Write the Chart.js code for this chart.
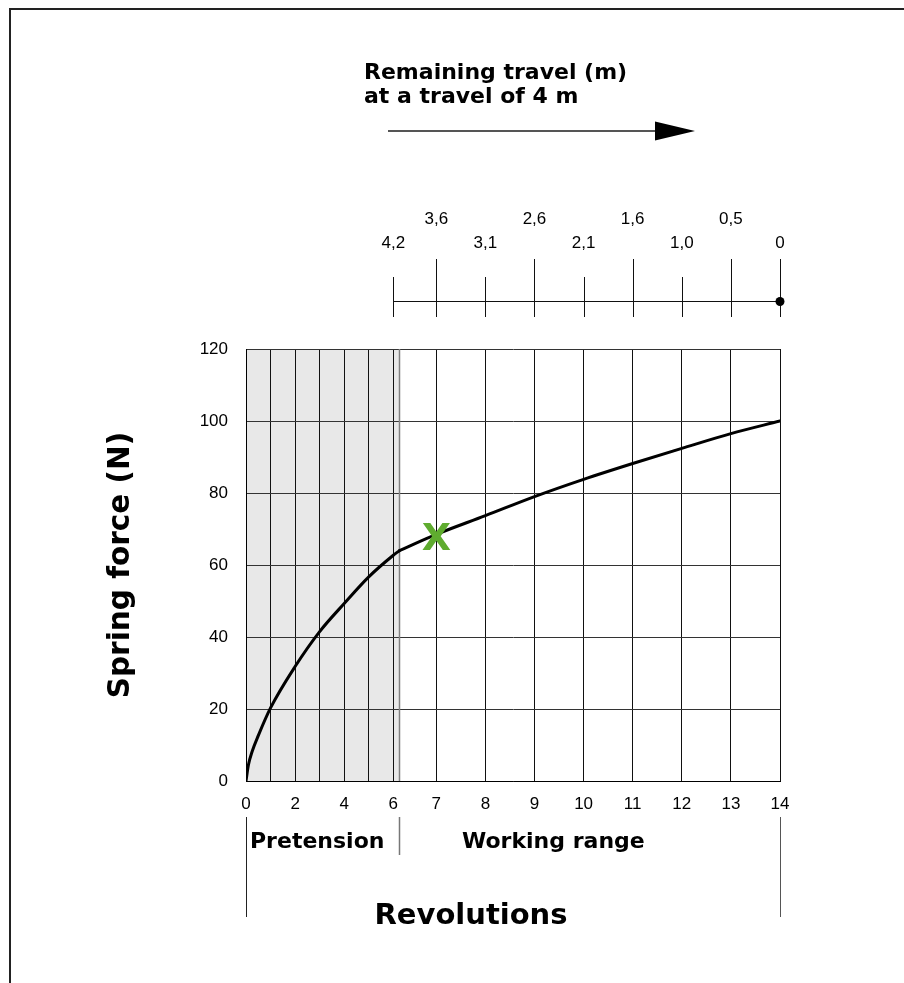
<!DOCTYPE html>
<html>
<head>
<meta charset="utf-8">
<title>Spring force</title>
<script src="https://cdn.jsdelivr.net/npm/chart.js@4.4.1/dist/chart.umd.min.js"></script>
<style>
    html, body { margin: 0; padding: 0; background: #fff; }
    #wrap { position: relative; width: 904px; height: 983px; }
</style>
</head>
<body>
<div id="wrap"><canvas id="springChart"></canvas></div>
<script>
(function () {
    // spring force over revolutions
    const revolutions = [0, 0.1, 0.25, 0.5, 1, 2, 3, 4, 5, 6, 6.25, 7, 8, 9, 10, 11, 12, 13, 14];
    const springForce = [0, 4.5, 8.2, 12.6, 20.3, 31.8, 41.5, 49.3, 56.7, 62.7, 64, 68.5, 73.7, 79, 83.8, 88.2, 92.4, 96.5, 100];

    const revTicks = [0, 1, 2, 3, 4, 5, 6, 7, 8, 9, 10, 11, 12, 13, 14];
    const revLabelled = [0, 2, 4, 6, 7, 8, 9, 10, 11, 12, 13, 14];
    const forceTicks = [0, 20, 40, 60, 80, 100, 120];

    // remaining travel (m) at a travel of 4 m, against revolutions
    const travelRevs = [6, 7, 8, 9, 10, 11, 12, 13, 14];
    const travelLabels = ['4,2', '3,6', '3,1', '2,6', '2,1', '1,6', '1,0', '0,5', '0'];

    const pretensionEnd = 6.25;
    const markerRev = 7;
    const markerForce = 68;

    const tickFont = { family: '"Liberation Sans", Arial, sans-serif', size: 17 };
    const boldFamily = '"DejaVu Sans", sans-serif';

    // pretension part of the axis is drawn at half the scale of the working range
    class SplitScale extends Chart.LinearScale {
        toUnits(v) {
            return v <= pretensionEnd ? v * 0.5 : pretensionEnd * 0.5 + (v - pretensionEnd);
        }

        fromUnits(u) {
            return u <= pretensionEnd * 0.5 ? u * 2 : u - pretensionEnd * 0.5 + pretensionEnd;
        }

        getPixelForValue(value) {
            if (value === null || isNaN(value)) {
                return NaN;
            }
            const lo = this.toUnits(this.min);
            const hi = this.toUnits(this.max);
            return this.getPixelForDecimal((this.toUnits(value) - lo) / (hi - lo));
        }

        getValueForPixel(pixel) {
            const lo = this.toUnits(this.min);
            const hi = this.toUnits(this.max);
            return this.fromUnits(lo + this.getDecimalForPixel(pixel) * (hi - lo));
        }
    }
    SplitScale.id = 'split';
    SplitScale.defaults = Chart.LinearScale.defaults;
    Chart.register(SplitScale);

    function crisp(v) {
        return Math.round(v) + 0.5;
    }

    function vline(ctx, x, y1, y2, color, width) {
        ctx.strokeStyle = color;
        ctx.lineWidth = width || 1;
        ctx.beginPath();
        ctx.moveTo(crisp(x), y1);
        ctx.lineTo(crisp(x), y2);
        ctx.stroke();
    }

    function curvePart(from, to) {
        const points = [];
        revolutions.forEach((rev, i) => {
            if (rev >= from && rev <= to) {
                points.push({ x: rev, y: springForce[i] });
            }
        });
        return {
            data: points,
            borderColor: '#000',
            borderWidth: 3,
            borderCapStyle: 'round',
            pointRadius: 0,
            cubicInterpolationMode: 'monotone',
            fill: false,
        };
    }

    const sheetPlugin = {
        id: 'springSheet',
        beforeDraw(chart) {
            const { ctx, chartArea: a, scales: { x } } = chart;
            ctx.save();
            ctx.fillStyle = '#e8e8e8';
            ctx.fillRect(a.left, a.top, x.getPixelForValue(pretensionEnd) - a.left, a.bottom - a.top);
            ctx.restore();
        },
        beforeDatasetsDraw(chart) {
            const { ctx, chartArea: a, scales: { x } } = chart;
            ctx.save();
            vline(ctx, x.getPixelForValue(pretensionEnd), a.top, a.bottom, '#808080', 1.5);
            ctx.restore();
        },
        afterDatasetsDraw(chart) {
            const { ctx, scales: { x, y } } = chart;
            ctx.save();
            ctx.fillStyle = '#5fac2f';
            ctx.font = 'bold 38px ' + boldFamily;
            ctx.textAlign = 'center';
            ctx.textBaseline = 'alphabetic';
            ctx.fillText('X', x.getPixelForValue(markerRev), y.getPixelForValue(markerForce) + 14);
            ctx.restore();
        },
        afterDraw(chart) {
            const { ctx, scales: { x } } = chart;
            ctx.save();

            // remaining travel axis
            const axisY = 301.5;
            ctx.strokeStyle = '#111';
            ctx.lineWidth = 1;
            ctx.beginPath();
            ctx.moveTo(x.getPixelForValue(travelRevs[0]), axisY);
            ctx.lineTo(x.getPixelForValue(travelRevs[travelRevs.length - 1]), axisY);
            ctx.stroke();

            ctx.fillStyle = '#000';
            ctx.font = tickFont.size + 'px ' + tickFont.family;
            ctx.textAlign = 'center';
            ctx.textBaseline = 'middle';
            travelRevs.forEach((rev, i) => {
                const px = x.getPixelForValue(rev);
                const upper = i % 2 === 1;
                const tall = upper || i === travelRevs.length - 1;
                vline(ctx, px, tall ? 259 : 277, 317, '#111', 1);
                ctx.fillText(travelLabels[i], px, upper ? 219 : 243);
            });
            ctx.beginPath();
            ctx.arc(x.getPixelForValue(travelRevs[travelRevs.length - 1]), axisY, 4.5, 0, Math.PI * 2);
            ctx.fill();

            // heading and arrow
            ctx.textAlign = 'left';
            ctx.textBaseline = 'alphabetic';
            ctx.font = 'bold 22px ' + boldFamily;
            ctx.fillText('Remaining travel (m)', 364, 79);
            ctx.fillText('at a travel of 4 m', 364, 103);

            ctx.strokeStyle = '#555';
            ctx.lineWidth = 2;
            ctx.beginPath();
            ctx.moveTo(388, 131);
            ctx.lineTo(660, 131);
            ctx.stroke();
            ctx.fillStyle = '#000';
            ctx.beginPath();
            ctx.moveTo(655, 121.5);
            ctx.lineTo(695, 131);
            ctx.lineTo(655, 140.5);
            ctx.closePath();
            ctx.fill();

            // ranges under the revolution axis
            const x0 = x.getPixelForValue(0);
            const xEnd = x.getPixelForValue(14);
            vline(ctx, x0, 817, 917, '#222', 1);
            vline(ctx, x.getPixelForValue(pretensionEnd), 817, 855, '#777', 1.5);
            vline(ctx, xEnd, 817, 917, '#555', 1);

            ctx.font = 'bold 22px ' + boldFamily;
            ctx.fillText('Pretension', 250, 848);
            ctx.fillText('Working range', 462, 848);

            ctx.font = 'bold 29px ' + boldFamily;
            ctx.textAlign = 'center';
            ctx.fillText('Revolutions', 471, 924);

            // sheet frame
            ctx.strokeStyle = '#222';
            ctx.lineWidth = 2;
            ctx.beginPath();
            ctx.moveTo(10, 983);
            ctx.lineTo(10, 9);
            ctx.lineTo(904, 9);
            ctx.stroke();

            ctx.restore();
        },
    };

    document.addEventListener('DOMContentLoaded', () => {
        const canvas = document.getElementById('springChart');

        new Chart(canvas.getContext('2d'), {
            type: 'line',
            data: {
                datasets: [
                    curvePart(0, pretensionEnd),
                    curvePart(pretensionEnd, 14),
                ],
            },
            options: {
                responsive: true,
                maintainAspectRatio: false,
                animation: false,
                layout: {
                    padding: { top: 349, left: 104, right: 124, bottom: 162 },
                },
                plugins: {
                    legend: { display: false },
                    tooltip: { enabled: false },
                },
                scales: {
                    x: {
                        type: 'split',
                        min: 0,
                        max: 14,
                        afterBuildTicks: (scale) => {
                            scale.ticks = revTicks.map((v) => ({ value: v }));
                        },
                        afterFit: (scale) => {
                            scale.height = 40;
                        },
                        grid: { color: '#111', lineWidth: 1, drawTicks: false },
                        border: { color: '#000', width: 1 },
                        ticks: {
                            autoSkip: false,
                            maxRotation: 0,
                            padding: 13,
                            color: '#000',
                            font: tickFont,
                            callback: (value) => (revLabelled.includes(value) ? String(value) : ''),
                        },
                    },
                    y: {
                        min: 0,
                        max: 120,
                        afterBuildTicks: (scale) => {
                            scale.ticks = forceTicks.map((v) => ({ value: v }));
                        },
                        afterFit: (scale) => {
                            scale.width = 142;
                        },
                        grid: { color: '#333', lineWidth: 1, drawTicks: false },
                        border: { color: '#000', width: 1 },
                        ticks: {
                            padding: 18,
                            color: '#000',
                            font: tickFont,
                        },
                        title: {
                            display: true,
                            text: 'Spring force (N)',
                            color: '#000',
                            padding: 0,
                            font: { family: boldFamily, weight: 'bold', size: 29.5 },
                        },
                    },
                },
            },
            plugins: [sheetPlugin],
        });
    });
})();
</script>
</body>
</html>
